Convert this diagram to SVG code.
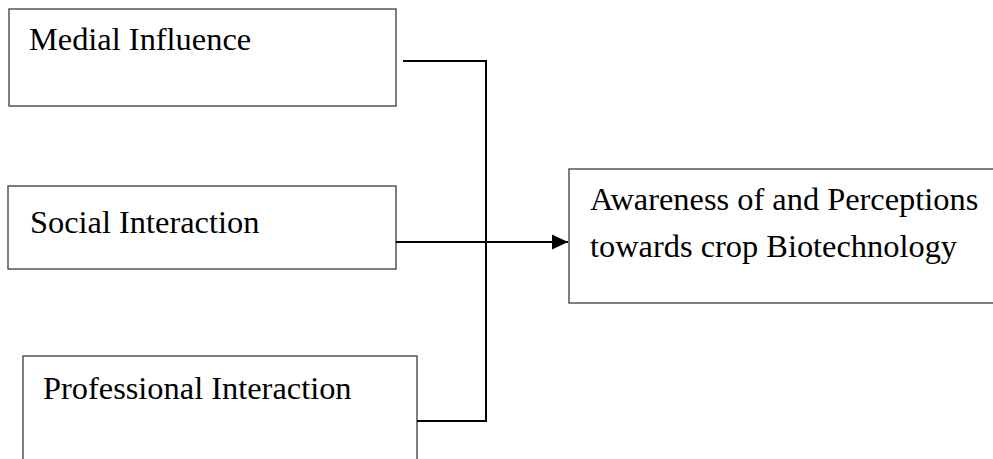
<svg xmlns="http://www.w3.org/2000/svg" width="993" height="459" viewBox="0 0 993 459">
  <style>
    .box { fill: #ffffff; stroke: #3a3a3a; stroke-width: 1.3; }
    .lbl { font-family: "Liberation Serif", "Times New Roman", serif; font-size: 32.4px; fill: #000000; }
    .conn { fill: none; stroke: #000000; stroke-width: 2; }
  </style>
  <defs>
    <marker id="arrow" markerUnits="userSpaceOnUse" markerWidth="16" markerHeight="16" viewBox="0 0 16 16" refX="16" refY="8" orient="auto">
      <path d="M0,0.5 L16,8 L0,15.5 Z" fill="#000000"/>
    </marker>
  </defs>
  <rect width="993" height="459" fill="#ffffff"/>
  <g id="medial-influence">
    <rect class="box" x="9" y="9" width="387" height="97"/>
    <text class="lbl" x="29" y="50">Medial Influence</text>
  </g>
  <g id="social-interaction">
    <rect class="box" x="8" y="186" width="388" height="83"/>
    <text class="lbl" x="30" y="233">Social Interaction</text>
  </g>
  <g id="professional-interaction">
    <rect class="box" x="23" y="356" width="394" height="120"/>
    <text class="lbl" x="43" y="399">Professional Interaction</text>
  </g>
  <g id="awareness">
    <rect class="box" x="569" y="169" width="440" height="134"/>
    <text class="lbl" x="590" y="210">Awareness of and Perceptions</text>
    <text class="lbl" x="590" y="257">towards crop Biotechnology</text>
  </g>
  <g id="connectors">
    <path class="conn" d="M403,61 H486 V421 H417"/>
    <line class="conn" x1="396" y1="242" x2="568" y2="242" marker-end="url(#arrow)"/>
  </g>
</svg>
